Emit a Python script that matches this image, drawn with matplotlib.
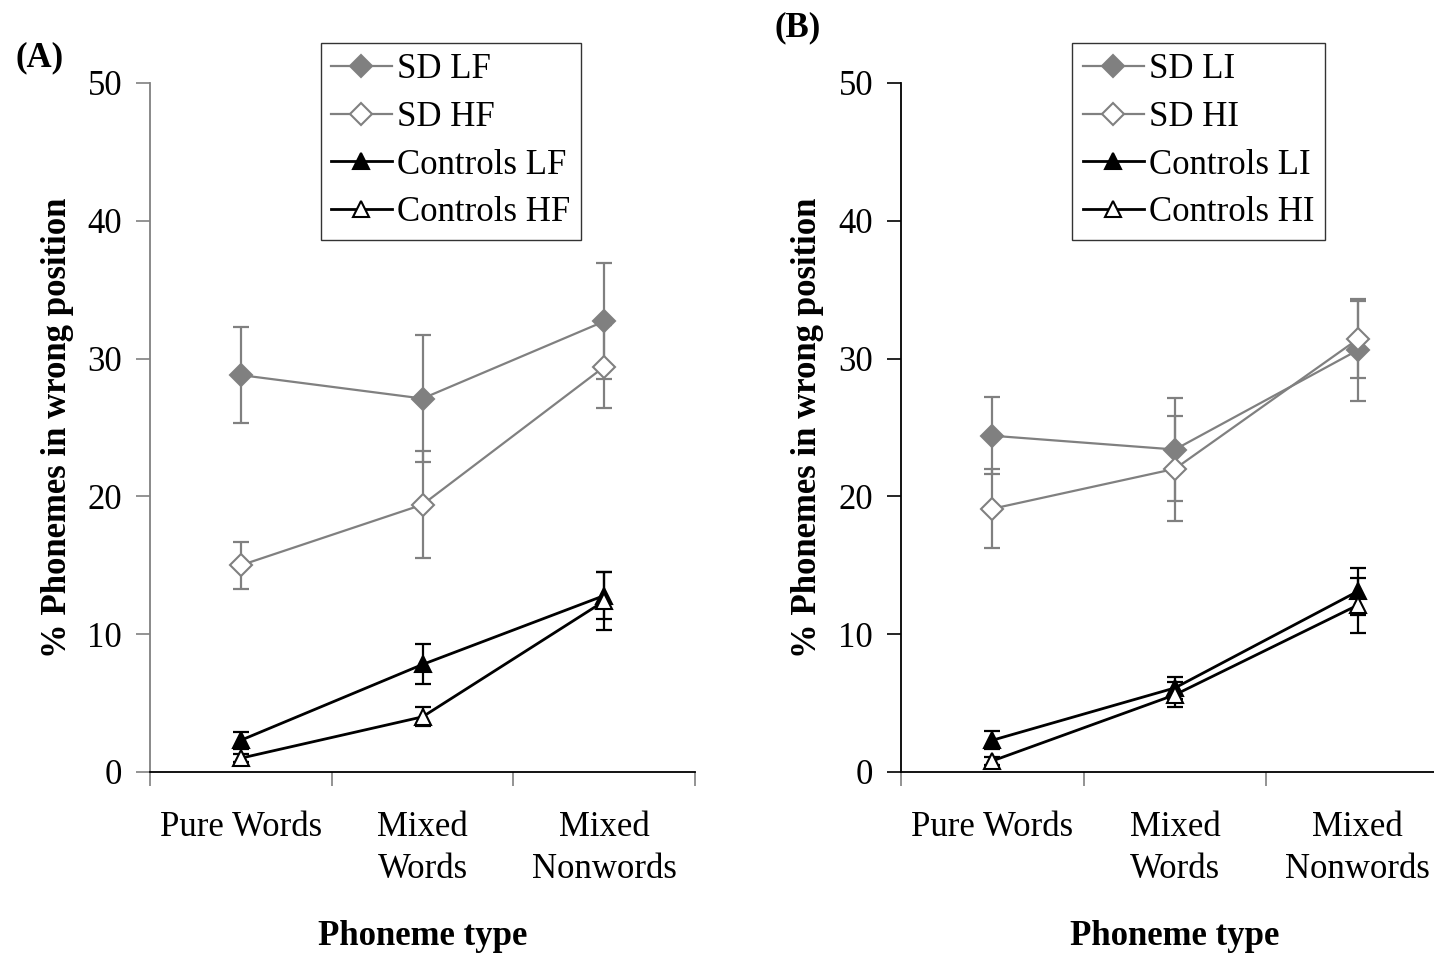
import matplotlib.pyplot as plt
import numpy as np

plt.rcParams['font.family'] = ['Liberation Serif', 'DejaVu Serif']

categories = ["Pure Words", "Mixed\nWords", "Mixed\nNonwords"]

# panel A: frequency
sd_lf = [28.8, 27.1, 32.7]
sd_lf_err = [3.5, 4.6, 4.2]
sd_hf = [15.0, 19.4, 29.4]
sd_hf_err = [1.7, 3.9, 3.0]
ctl_lf = [2.3, 7.8, 12.8]
ctl_lf_err = [0.6, 1.45, 1.7]
ctl_hf = [1.0, 4.0, 12.4]
ctl_hf_err = [0.3, 0.7, 2.1]

# panel B: imageability
sd_li = [24.4, 23.4, 30.6]
sd_li_err = [2.8, 3.75, 3.7]
sd_hi = [19.1, 22.0, 31.4]
sd_hi_err = [2.85, 3.8, 2.8]
ctl_li = [2.3, 6.1, 13.1]
ctl_li_err = [0.65, 0.8, 1.7]
ctl_hi = [0.8, 5.6, 12.1]
ctl_hi_err = [0.3, 0.9, 2.0]

GRAY = "#808080"
FS = 25

fig = plt.figure(figsize=(14.34, 9.58), dpi=100)
axA = fig.add_axes([0.1046, 0.1942, 0.3801, 0.7192])
axB = fig.add_axes([0.6283, 0.1942, 0.3821, 0.7192])


def draw_panel(ax, series, left_spine_color):
    x = np.arange(len(categories)) + 0.5
    for vals, errs, name, color, marker, face in series:
        ax.errorbar(x, vals, yerr=errs, fmt='none', ecolor=color,
                    elinewidth=1.6, capsize=6, capthick=1.6, zorder=2)
        ax.plot(x, vals, color=color, lw=1.6 if color == GRAY else 2.0,
                marker=marker, markersize=11 if marker == 'D' else 12,
                markerfacecolor=face, markeredgecolor=color,
                markeredgewidth=1.5, label=name, zorder=3)
    ax.set_xlim(0, 3)
    ax.set_ylim(0, 50)
    ax.set_yticks(range(0, 51, 10))
    ax.set_xticks([0, 1, 2, 3])
    ax.set_xticklabels([])
    ax.set_xticks(x, minor=True)
    ax.set_xticklabels(categories, minor=True, fontsize=FS, linespacing=1.35)
    ax.tick_params(axis='x', which='major', length=10, width=1.2,
                   color=GRAY, direction='out')
    ax.tick_params(axis='x', which='minor', length=0, pad=28)
    ax.tick_params(axis='y', length=10, width=1.2, color=left_spine_color,
                   labelsize=FS, pad=10)
    for s in ['top', 'right']:
        ax.spines[s].set_visible(False)
    ax.spines['left'].set_color(left_spine_color)
    ax.spines['left'].set_linewidth(1.3)
    ax.spines['bottom'].set_color('black')
    ax.spines['bottom'].set_linewidth(1.3)
    ax.set_ylabel("% Phonemes in wrong position", fontsize=FS,
                  fontweight='bold')
    ax.yaxis.set_label_coords(-0.14, 0.5)
    ax.set_xlabel("Phoneme type", fontsize=FS, fontweight='bold', va='top')
    ax.xaxis.set_label_coords(0.5, -0.215)
    leg = ax.legend(loc='upper left', bbox_to_anchor=(0.313, 1.058),
                    fontsize=FS, frameon=True, fancybox=False,
                    handlelength=1.75, handletextpad=0.15,
                    borderpad=0.3, labelspacing=0.42, borderaxespad=0)
    leg.get_frame().set_edgecolor('black')
    leg.get_frame().set_linewidth(1.0)


draw_panel(axA, [
    (sd_lf, sd_lf_err, "SD LF", GRAY, 'D', GRAY),
    (sd_hf, sd_hf_err, "SD HF", GRAY, 'D', 'white'),
    (ctl_lf, ctl_lf_err, "Controls LF", 'black', '^', 'black'),
    (ctl_hf, ctl_hf_err, "Controls HF", 'black', '^', 'white'),
], GRAY)

draw_panel(axB, [
    (sd_li, sd_li_err, "SD LI", GRAY, 'D', GRAY),
    (sd_hi, sd_hi_err, "SD HI", GRAY, 'D', 'white'),
    (ctl_li, ctl_li_err, "Controls LI", 'black', '^', 'black'),
    (ctl_hi, ctl_hi_err, "Controls HI", 'black', '^', 'white'),
], 'black')

fig.text(0.0105, 0.957, "(A)", fontsize=FS, fontweight='bold', va='top')
fig.text(0.540, 0.988, "(B)", fontsize=FS, fontweight='bold', va='top')

fig.savefig("out.png", dpi=100)
